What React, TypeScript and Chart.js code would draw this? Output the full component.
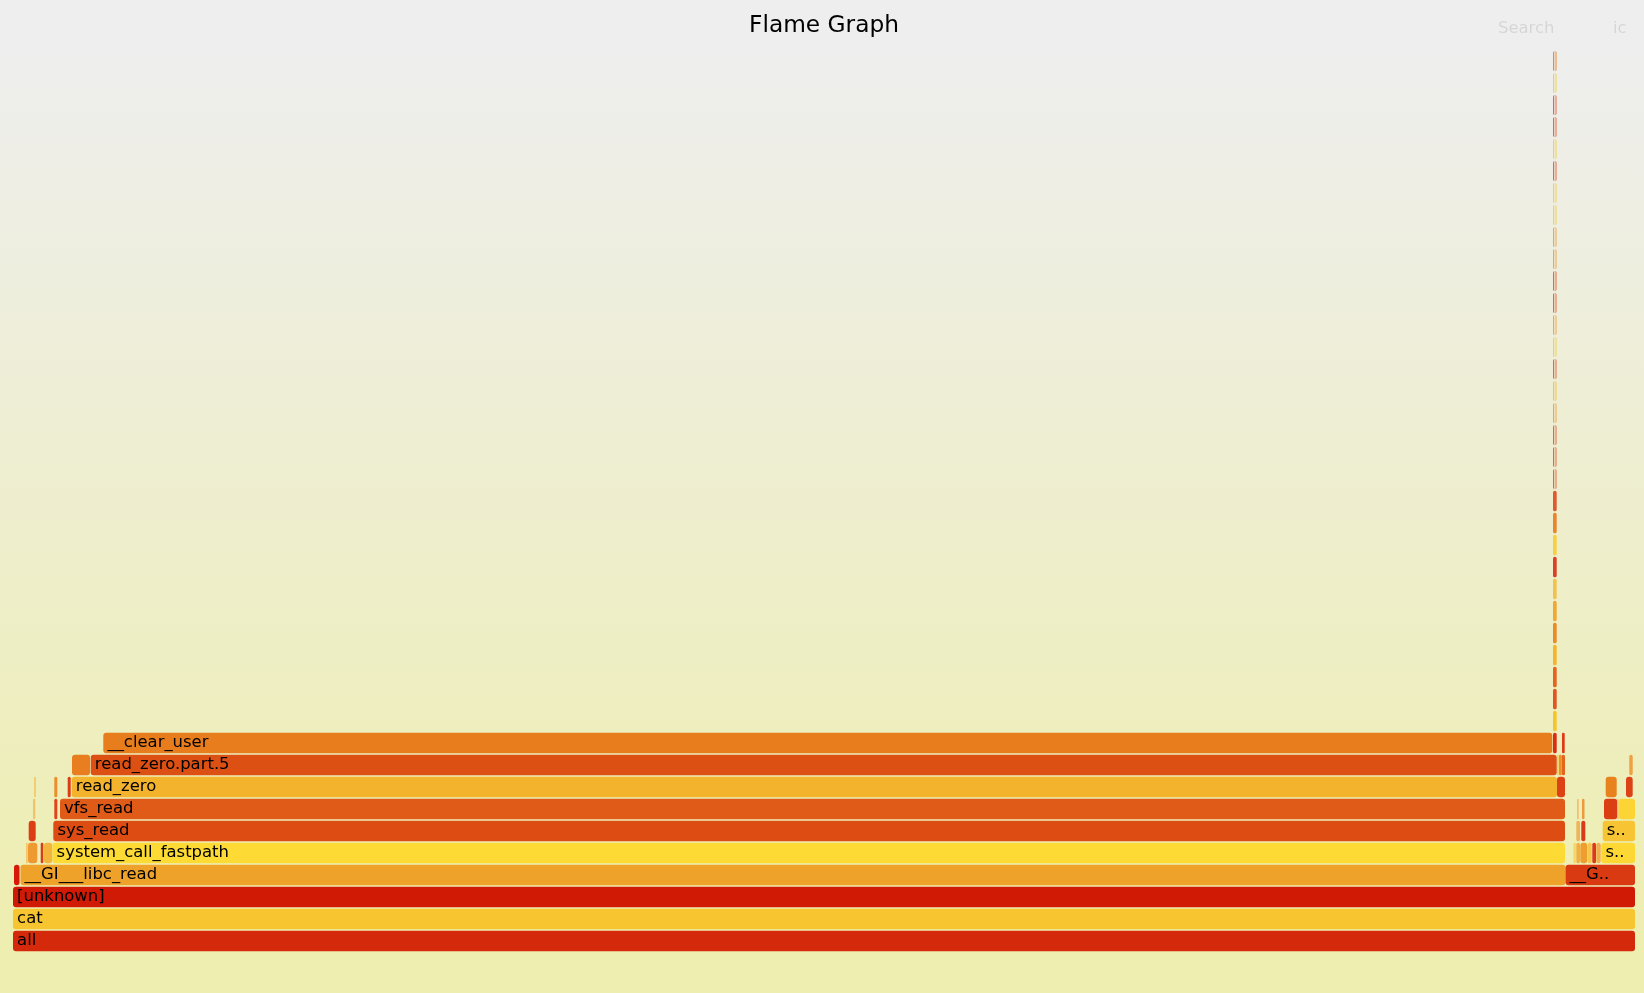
import React, { useEffect, useRef } from "react";
import { Chart, registerables } from "chart.js";

Chart.register(...registerables);

// ---- data ----
const titleText = "Flame Graph";
const searchLabel = "Search";
const ignoreCaseLabel = "ic";
const totalSamples = 1622;

const depthLabels = [
  "0", "1", "2", "3", "4", "5", "6", "7", "8", "9",
  "10", "11", "12", "13", "14", "15", "16", "17", "18", "19",
  "20", "21", "22", "23", "24", "25", "26", "27", "28", "29",
  "30", "31", "32", "33", "34", "35", "36", "37", "38", "39", "40",
];

const frameNames = [
  "all", "cat", "[unknown]",
  "__read_nocancel", "__GI___libc_read", "__GI___libc_write",
  "sysret_check", "system_call", "sysret_audit", "system_call_after_swapgs", "system_call_fastpath",
  "sysret_check", "system_call", "system_call_after_swapgs", "sysret_audit", "int_ret_from_sys_call", "sysret_signal", "system_call_fastpath",
  "sys_read", "sys_read", "sys_write", "fget_light", "sys_write",
  "vfs_read", "fget_light", "vfs_read", "vfs_write", "fput", "vfs_write", "fsnotify_modify", "do_sync_write",
  "read_zero", "__fget", "rw_verify_area", "read_zero", "fsnotify_access", "rw_verify_area", "pipe_write",
  "might_fault", "read_zero.part.5", "fsnotify", "__fsnotify_parent", "dnotify_flush", "__wake_up_sync_key",
  "__clear_user", "apic_timer_interrupt", "retint_careful",
  "smp_apic_timer_interrupt", "irq_exit", "do_softirq", "call_softirq", "__do_softirq",
  "net_rx_action", "e1000_clean", "napi_gro_receive", "netif_receive_skb_internal", "__netif_receive_skb_core",
  "ip_rcv", "ip_rcv_finish", "ip_local_deliver", "ip_local_deliver_finish", "tcp_v4_rcv",
  "tcp_v4_do_rcv", "tcp_rcv_established", "tcp_data_queue", "sock_def_readable", "__wake_up_sync_key",
  "__wake_up_common", "ep_poll_callback", "__wake_up_locked", "default_wake_function", "try_to_wake_up",
  "ttwu_do_activate", "activate_task", "enqueue_task_fair", "enqueue_entity", "update_curr", "cpuacct_charge",
];

const frameDepths = [
  0, 1, 2,
  3, 3, 3,
  4, 4, 4, 4, 4,
  4, 4, 4, 4, 4, 4, 4,
  5, 5, 5, 5, 5,
  6, 6, 6, 6, 6, 6, 6, 6,
  7, 7, 7, 7, 7, 7, 7,
  8, 8, 8, 8, 8, 8,
  9, 9, 9,
  10, 11, 12, 13, 14,
  15, 16, 17, 18, 19,
  20, 21, 22, 23, 24,
  25, 26, 27, 28, 29,
  30, 31, 32, 33, 34,
  35, 36, 37, 38, 39, 40,
];

const frameStarts = [
  0, 0, 0,
  1, 7.5, 1552.5,
  13, 15, 27.7, 31, 39.5,
  1560.3, 1563.3, 1567.3, 1574.7, 1579.3, 1583.3, 1588.3,
  15.7, 40.3, 1563.3, 1568.3, 1589.7,
  20, 41.3, 47, 1564, 1569, 1591, 1604.4, 1605.7,
  21, 41.3, 54.7, 58.7, 1544, 1592.7, 1613,
  59, 77.7, 1544, 1546, 1548.8, 1616.3,
  90.3, 1540, 1549,
  1540, 1540, 1540, 1540, 1540,
  1540, 1540, 1540, 1540, 1540,
  1540, 1540, 1540, 1540, 1540,
  1540, 1540, 1540, 1540, 1540,
  1540, 1540, 1540, 1540, 1540,
  1540, 1540, 1540, 1540, 1540, 1540,
];

const frameEnds = [
  1622, 1622, 1622,
  6.5, 1552.5, 1622,
  14.7, 24.3, 30.3, 39.3, 1552,
  1563, 1567, 1574.3, 1578.7, 1583, 1587.7, 1622,
  22.7, 1552, 1567, 1572.3, 1622,
  22.3, 44.3, 1552, 1565.7, 1571.5, 1604.3, 1605.6, 1622,
  23, 44.3, 57.7, 1544, 1552, 1603.7, 1619.7,
  77, 1543.7, 1545.7, 1548.7, 1552, 1619.7,
  1539.3, 1543.7, 1551.7,
  1543.7, 1543.7, 1543.7, 1543.7, 1543.7,
  1543.7, 1543.7, 1543.7, 1543.7, 1543.7,
  1543.7, 1543.7, 1543.7, 1543.7, 1543.7,
  1543.7, 1543.7, 1543.7, 1543.7, 1543.7,
  1543.7, 1543.7, 1543.7, 1543.7, 1543.7,
  1543.7, 1543.7, 1543.7, 1543.7, 1543.7, 1543.7,
];

// ---- styles ----
const frameColors = [
  "#D5290C", "#F7C530", "#D11A06",
  "#D61A0A", "#EFA22A", "#D93A12",
  "#F3C56A", "#EE9A30", "#D93C18", "#F3B43C", "#FDDA34",
  "#F6D868", "#F0B040", "#EE9E2E", "#F5C84C", "#DC3A1A", "#F2B04A", "#FDD835",
  "#DC3E14", "#DD4C13", "#F0B45A", "#DB3A16", "#F7C534",
  "#F2C36A", "#DF4518", "#E05A18", "#F2BE70", "#EE9A3A", "#DC3E14", "#F2BE60", "#FCD535",
  "#F3CD72", "#EC8E2C", "#DA3C14", "#F4B32D", "#DD4214", "#E8821F", "#DC4216",
  "#E87E20", "#DC5013", "#F3CE5A", "#EC8E2A", "#E4651C", "#F0A040",
  "#E87D1D", "#DC2C14", "#DE3A16",
  "#F5C52A", "#E05520", "#E5641E", "#F5B52A", "#EB8A28",
  "#F1A832", "#F2C24E", "#DC4028", "#F7D040", "#E8862E",
  "#E05A30", "#E05A30", "#E05A30", "#E05A30", "#EBA040",
  "#EEC040", "#E05A30", "#F0D040", "#EBA040", "#E05A30",
  "#E05A30", "#EBA040", "#EBA040", "#F0D040", "#F0D040",
  "#E05A30", "#F0D040", "#E05A30", "#E05A30", "#F0D040",
];

const paleFromDepth = 21;
const scale = 1.37;
const labelFontSize = 12 * scale;
const textFont = "DejaVu Sans";

function withAlpha(hex: string, a: number) {
  const r = parseInt(hex.slice(1, 3), 16);
  const g = parseInt(hex.slice(3, 5), 16);
  const b = parseInt(hex.slice(5, 7), 16);
  return `rgba(${r},${g},${b},${a})`;
}

function fitLabel(ctx: CanvasRenderingContext2D, name: string, w: number) {
  // Verdana's underscore is wider than DejaVu's; emulate its metrics
  const extra = labelFontSize * 0.096;
  const measure = (s: string) => ctx.measureText(s).width + (s.split("_").length - 1) * extra;
  if (w < 2 * labelFontSize * 0.59) return "";
  const sl = measure(name);
  if (sl < w) return name;
  const start = Math.floor((w / sl) * name.length);
  for (let x = start; x > 0; x -= 2) {
    if (measure(name.substring(0, x + 2)) <= w) return name.substring(0, x) + "..";
  }
  return "";
}

const backgroundPlugin = {
  id: "flameBackground",
  beforeDraw(chart: any) {
    const { ctx, width, height } = chart;
    const g = ctx.createLinearGradient(0, 0, 0, height);
    g.addColorStop(0.05, "#eeeeee");
    g.addColorStop(0.95, "#eeeeb0");
    ctx.save();
    ctx.fillStyle = g;
    ctx.fillRect(0, 0, width, height);
    ctx.restore();
  },
};

const labelPlugin = {
  id: "flameLabels",
  afterDatasetsDraw(chart: any) {
    const { ctx } = chart;
    const meta = chart.getDatasetMeta(0);
    ctx.save();
    ctx.font = `${labelFontSize}px "${textFont}"`;
    ctx.fillStyle = "#000000";
    ctx.textBaseline = "alphabetic";
    ctx.textAlign = "left";
    meta.data.forEach((el: any, i: number) => {
      const p = el.getProps(["x", "base", "y", "height"], true);
      const left = Math.min(p.x, p.base);
      const w = Math.abs(p.x - p.base) - 3 * scale;
      const txt = fitLabel(ctx, frameNames[i], w);
      if (!txt) return;
      const top = p.y - p.height / 2;
      ctx.fillText(txt, left + 3 * scale, top + 10.5 * scale);
    });
    ctx.restore();
  },
  afterDraw(chart: any) {
    const { ctx, width } = chart;
    ctx.save();
    ctx.font = `${labelFontSize}px "${textFont}"`;
    ctx.fillStyle = "rgba(0,0,0,0.1)";
    ctx.textBaseline = "alphabetic";
    ctx.fillText(searchLabel, width - 146, 33);
    ctx.fillText(ignoreCaseLabel, width - 31, 33);
    ctx.restore();
  },
};

export default function App() {
  const canvasRef = useRef<HTMLCanvasElement | null>(null);

  useEffect(() => {
    document.body.style.margin = "0";
    const canvas = canvasRef.current;
    if (!canvas) return;
    const data = frameNames.map((_, i) => ({
      x: [frameStarts[i], frameEnds[i]],
      y: depthLabels[frameDepths[i]],
    }));
    const chart = new Chart(canvas, {
      type: "bar",
      data: {
        labels: depthLabels,
        datasets: [
          {
            data: data as any,
            backgroundColor: (c: any) => {
              const i = c.dataIndex;
              const col = frameColors[i] || "#E87D1D";
              return frameDepths[i] >= paleFromDepth ? withAlpha(col, 0.12) : col;
            },
            borderColor: (c: any) => {
              const i = c.dataIndex;
              const col = frameColors[i] || "#E87D1D";
              return withAlpha(col, 0.9);
            },
            borderWidth: (c: any) => {
              const i = c.dataIndex;
              return frameDepths[i] >= paleFromDepth
                ? { left: 1.1, right: 1.1, top: 0, bottom: 0 }
                : 0;
            },
            borderSkipped: false,
            borderRadius: 3,
            categoryPercentage: 1,
            barPercentage: 15 / 16,
          } as any,
        ],
      },
      options: {
        indexAxis: "y",
        responsive: false,
        animation: false,
        events: [],
        layout: { padding: { left: 13, right: 9, top: 0, bottom: 41 } },
        scales: {
          x: { type: "linear", min: 0, max: totalSamples, display: false },
          y: { type: "category", reverse: true, display: false, offset: true },
        },
        plugins: {
          legend: { display: false },
          tooltip: { enabled: false },
          title: {
            display: true,
            text: titleText,
            color: "#000000",
            font: { family: textFont, size: 17 * scale, weight: "normal", lineHeight: 1.2 },
            padding: { top: 12, bottom: 10 },
          },
        },
      },
      plugins: [backgroundPlugin, labelPlugin],
    });
    return () => chart.destroy();
  }, []);

  return (
    <div style={{ position: "relative", width: 1644, height: 993 }}>
      <canvas ref={canvasRef} width={1644} height={993} style={{ display: "block" }} />
    </div>
  );
}
